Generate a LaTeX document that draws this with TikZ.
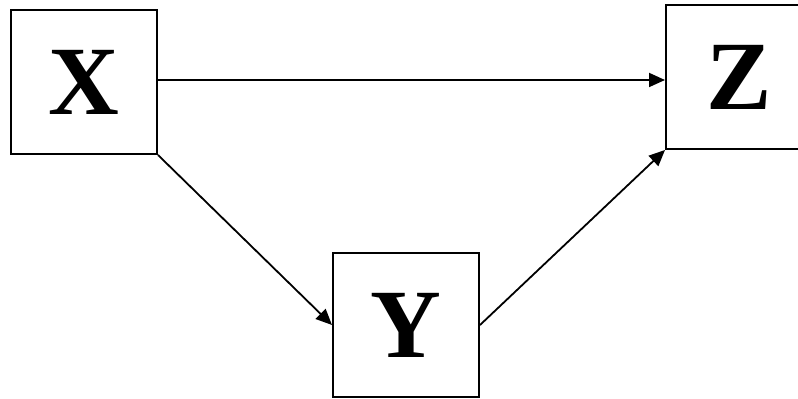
\documentclass[tikz,border=0pt]{standalone}
\usepackage{fontspec}
\setmainfont{Liberation Serif}
\usetikzlibrary{arrows.meta}

\tikzset{
	var/.style={draw, line width=2pt, inner sep=0pt, minimum height=144pt,
		font=\fontsize{98}{98}\selectfont\bfseries},
	link/.style={line width=1.8pt, -{Triangle[length=16pt, width=14pt]}}
}

\begin{document}
\begin{tikzpicture}[x=1pt, y=1pt]
	\useasboundingbox (0, 0) rectangle (798, 399);
	% Boxes:
	\node[var, minimum width=146pt] (X) at (84, 317) {X};
	\node[var, minimum width=146pt] (Y) at (406, 74) {Y};
	\node[var, minimum width=146pt] (Z) at (739, 322) {Z};
	% Arrows:
	\draw[link] ([yshift=2pt]X.east) -- ([yshift=2pt]X.east -| Z.west);
	\draw[link] (X.south east) -- (Y.west);
	\draw[link] (Y.east) -- (Z.south west);
\end{tikzpicture}
\end{document}
